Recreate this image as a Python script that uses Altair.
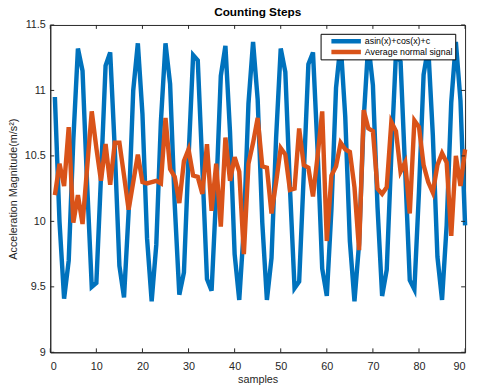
import altair as alt
import pandas as pd

samples = list(range(1, 91))
wave = [10.95, 10.00, 9.41, 9.70, 10.62, 11.32, 11.15, 10.28, 9.50, 9.53,
        10.34, 11.19, 11.29, 10.55, 9.66, 9.42, 10.07, 11.00, 11.36, 10.82,
        9.87, 9.39, 9.82, 10.76, 11.36, 11.05, 10.13, 9.44, 9.61, 10.49,
        11.27, 11.23, 10.41, 9.56, 9.47, 10.21, 11.11, 11.34, 10.68, 9.75,
        9.40, 9.95, 10.90, 11.37, 10.93, 9.99, 9.40, 9.72, 10.64, 11.32,
        11.14, 10.26, 9.49, 9.54, 10.36, 11.20, 11.29, 10.54, 9.64, 9.43,
        10.09, 11.02, 11.36, 10.80, 9.85, 9.39, 9.83, 10.78, 11.36, 11.04,
        10.11, 9.43, 9.63, 10.51, 11.28, 11.22, 10.39, 9.55, 9.48, 10.23,
        11.12, 11.33, 10.66, 9.73, 9.40, 9.97, 10.91, 11.37, 10.92, 9.97]
avg = [10.20, 10.44, 10.27, 10.72, 9.99, 10.20, 9.98, 10.41, 10.84, 10.56,
       10.31, 10.59, 10.28, 10.60, 10.60, 10.35, 10.09, 10.30, 10.51, 10.30,
       10.29, 10.30, 10.31, 10.29, 10.79, 10.40, 10.34, 10.14, 10.46, 10.55,
       10.35, 10.34, 10.21, 10.59, 10.08, 10.44, 9.96, 10.64, 10.31, 10.49,
       10.38, 9.75, 10.44, 10.60, 10.79, 10.42, 10.41, 10.06, 10.30, 10.56,
       10.51, 10.24, 10.25, 10.71, 10.43, 10.41, 10.19, 10.50, 10.84, 9.85,
       10.35, 10.42, 10.60, 10.55, 10.53, 10.26, 9.78, 10.85, 10.71, 10.69,
       10.25, 10.21, 10.26, 10.76, 10.69, 10.38, 10.45, 10.06, 10.77, 10.72,
       10.43, 10.30, 10.22, 10.43, 10.52, 10.45, 9.89, 10.50, 10.27, 10.55]
x_ticks = [0, 10, 20, 30, 40, 50, 60, 70, 80, 90]
y_ticks = [9, 9.5, 10, 10.5, 11, 11.5]
names = ["asin(x)+cos(x)+c", "Average normal signal"]
colors = ["#0072BD", "#D95319"]

df = pd.DataFrame({
    "sample": samples + samples,
    "value": wave + avg,
    "series": [names[0]] * len(samples) + [names[1]] * len(samples),
})
xt = pd.DataFrame({"t": x_ticks})
yt = pd.DataFrame({"t": y_ticks})

W, H = 422, 333
FONT = "Liberation Sans"
INK = "#262626"
xs = alt.Scale(domain=[0, 90], nice=False)
ys = alt.Scale(domain=[9, 11.5], nice=False)

common = dict(domain=True, domainColor=INK, domainWidth=1, ticks=False, tickSize=0,
              grid=False, labelColor=INK, labelFont=FONT, labelFontSize=11,
              titleColor=INK, titleFont=FONT, titleFontSize=11, titleFontWeight="normal")
x_axis = alt.Axis(values=x_ticks, title="samples", labelPadding=8, titlePadding=3, **common)
y_axis = alt.Axis(values=y_ticks, title="Acceleration Magnitude(m/s²)", format="~g",
                  labelPadding=5, titlePadding=6, **common)

lines = alt.Chart(df).mark_line(strokeWidth=4.5).encode(
    x=alt.X("sample:Q", scale=xs, axis=x_axis),
    y=alt.Y("value:Q", scale=ys, axis=y_axis),
    color=alt.Color("series:N",
                    scale=alt.Scale(domain=names, range=colors),
                    legend=alt.Legend(title=None, orient="none", legendX=275, legendY=9,
                                      symbolType="M-6,0H6", symbolSize=25,
                                      symbolStrokeWidth=4.5, symbolOffset=19,
                                      labelOffset=14, labelFont=FONT, labelFontSize=9,
                                      labelColor="#000000", rowPadding=0, clipHeight=11,
                                      padding=2, strokeColor="#000000", fillColor="#ffffff")),
)

tx = alt.X("t:Q", scale=xs, axis=x_axis)
ty = alt.Y("t:Q", scale=ys, axis=y_axis)
bottom = alt.Chart(xt).mark_rule(color=INK, strokeWidth=1).encode(
    x=tx, y=alt.value(H), y2=alt.value(H - 4))
top = alt.Chart(xt).mark_rule(color=INK, strokeWidth=1).encode(
    x=tx, y=alt.value(0), y2=alt.value(4))
left = alt.Chart(yt).mark_rule(color=INK, strokeWidth=1).encode(
    y=ty, x=alt.value(0), x2=alt.value(4))
right = alt.Chart(yt).mark_rule(color=INK, strokeWidth=1).encode(
    y=ty, x=alt.value(W), x2=alt.value(W - 4))

chart = alt.layer(lines, bottom, top, left, right).properties(
    width=W, height=H,
    autosize=alt.AutoSizeParams(type="none"),
    padding={"left": 43, "top": 14, "right": 5, "bottom": 30},
    title=alt.TitleParams("Counting Steps", font=FONT, fontSize=12, fontWeight="bold",
                          color="#000000", offset=0),
).configure_view(stroke=INK, strokeWidth=1)

chart.save("out.html", embed_options={"renderer": "svg", "actions": False})
